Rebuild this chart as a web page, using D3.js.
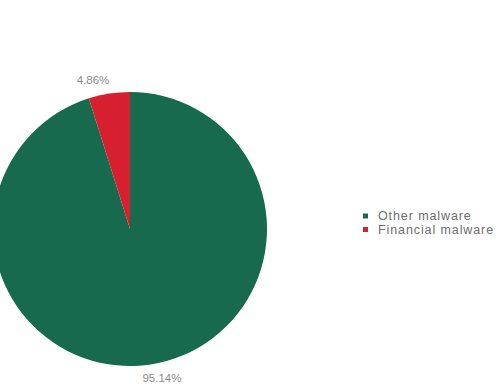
<!DOCTYPE html>
<html>
<head>
<meta charset="utf-8">
<script src="https://cdn.jsdelivr.net/npm/d3@7"></script>
<style>
  html, body { margin: 0; padding: 0; background: #fff; }
  svg { display: block; }
</style>
</head>
<body>
<svg id="chart" width="497" height="388"></svg>
<script>
// Share of malware types
const categories = ["Other malware", "Financial malware"];
const shares = [95.14, 4.86];
const labels = ["95.14%", "4.86%"];
const colors = ["#176a4e", "#d6202f"];

const svg = d3.select("#chart");
const cx = 130, cy = 229, radius = 137;

const pie = d3.pie().sort(null).value(d => d)(shares);
const arc = d3.arc().innerRadius(0).outerRadius(radius);
const labelArc = d3.arc().innerRadius(151).outerRadius(151);

const g = svg.append("g").attr("transform", `translate(${cx},${cy})`);

g.selectAll("path.slice")
  .data(pie)
  .join("path")
  .attr("class", "slice")
  .attr("d", arc)
  .attr("fill", (d, i) => colors[i]);

// percentage labels outside the rim, spread a little sideways
g.selectAll("text.pct")
  .data(pie)
  .join("text")
  .attr("class", "pct")
  .attr("x", d => {
    const [x] = labelArc.centroid(d);
    return x + (x < 0 ? -14 : 9);
  })
  .attr("y", d => labelArc.centroid(d)[1])
  .attr("dy", "0.35em")
  .attr("text-anchor", "middle")
  .attr("font-family", "Liberation Sans, Arial, sans-serif")
  .attr("font-size", 11.5)
  .attr("fill", "#8a8a8a")
  .text((d, i) => labels[i]);

// legend
const legend = svg.append("g").attr("transform", "translate(363,216)");
const rows = legend.selectAll("g.row")
  .data(categories)
  .join("g")
  .attr("class", "row")
  .attr("transform", (d, i) => `translate(0,${i * 13.5})`);

rows.append("rect")
  .attr("x", 0).attr("y", -2.5)
  .attr("width", 5).attr("height", 5)
  .attr("fill", (d, i) => colors[i]);

rows.append("text")
  .attr("x", 15)
  .attr("dy", "0.35em")
  .attr("font-family", "Liberation Sans, Arial, sans-serif")
  .attr("font-size", 12.5)
  .attr("letter-spacing", 0.9)
  .attr("fill", "#6e6e6e")
  .text(d => d);
</script>
</body>
</html>
